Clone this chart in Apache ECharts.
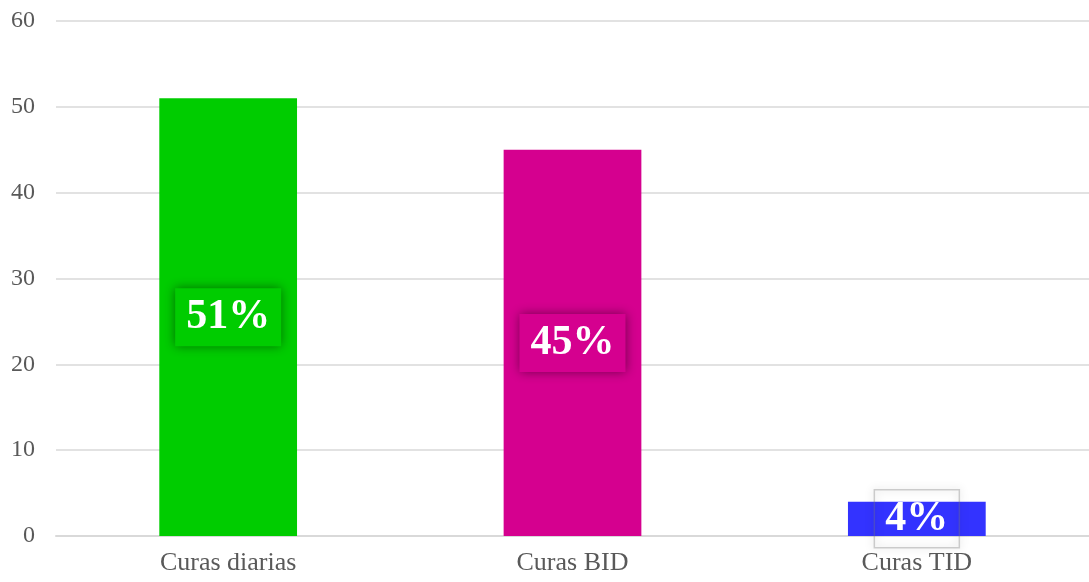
<!DOCTYPE html>
<html>
<head>
<meta charset="utf-8">
<style>
  html, body { margin: 0; padding: 0; background: #ffffff; }
  #chart { width: 1089px; height: 582px; }
</style>
<script src="https://cdn.jsdelivr.net/npm/echarts@6/dist/echarts.min.js"></script>
</head>
<body>
<div id="chart"></div>
<script>
// Categories, values and bar colours
const categories = ['Curas diarias', 'Curas BID', 'Curas TID'];
const values = [51, 45, 4];
const barColors = ['#00CC00', '#D5008F', '#3333FF'];
const yTicks = { min: 0, max: 60, interval: 10 };

const chart = echarts.init(document.getElementById('chart'), null, { renderer: 'canvas' });

const fontFamily = '"Liberation Serif", "Times New Roman", serif';

// Height of the value label box (content + padding)
const LABEL_H = 42, PAD_V = 8, PAD_H = 11;
const BOX_H = LABEL_H + PAD_V * 2;

// A label box that fits inside its bar is filled with the bar colour;
// one that sticks out of a short bar is left see-through with a thin edge.
function labelBox(i) {
  const top = chart.convertToPixel({ yAxisIndex: 0 }, values[i]);
  const bottom = chart.convertToPixel({ yAxisIndex: 0 }, 0);
  if (bottom - top >= BOX_H) {
    return { backgroundColor: barColors[i], shadowColor: 'rgba(0,0,0,0.45)', shadowBlur: 10 };
  }
  return {
    borderColor: 'rgba(120,120,120,0.35)',
    borderWidth: 1.5,
    shadowColor: 'rgba(0,0,0,0.6)',
    shadowBlur: 8
  };
}

chart.setOption({
  animation: false,
  backgroundColor: '#ffffff',
  grid: { left: 56, right: 0, top: 21, bottom: 46, containLabel: false },
  xAxis: {
    type: 'category',
    data: categories,
    axisLine: { lineStyle: { color: '#d9d9d9', width: 2 } },
    axisTick: { show: false },
    axisLabel: { color: '#595959', fontFamily, fontSize: 26, margin: 14 }
  },
  yAxis: {
    type: 'value',
    min: yTicks.min,
    max: yTicks.max,
    interval: yTicks.interval,
    axisLine: { show: false },
    axisTick: { show: false },
    splitLine: { lineStyle: { color: '#d9d9d9', width: 1.5 } },
    axisLabel: { color: '#595959', fontFamily, fontSize: 24, margin: 21 }
  },
  series: [{
    type: 'bar',
    barWidth: '40%',
    data: values.map((v, i) => ({ value: v, itemStyle: { color: barColors[i] } })),
    label: {
      show: true,
      position: 'inside',
      formatter: p => p.value + '%',
      color: '#ffffff',
      fontFamily,
      fontWeight: 'bold',
      fontSize: 42,
      lineHeight: LABEL_H,
      height: LABEL_H,
      verticalAlign: 'middle',
      padding: [PAD_V, PAD_H, PAD_V, PAD_H]
    }
  }]
});

// Once the axes exist, give each label box its style
chart.setOption({
  series: [{
    data: values.map((v, i) => ({
      value: v,
      itemStyle: { color: barColors[i] },
      label: labelBox(i)
    }))
  }]
});
</script>
</body>
</html>
